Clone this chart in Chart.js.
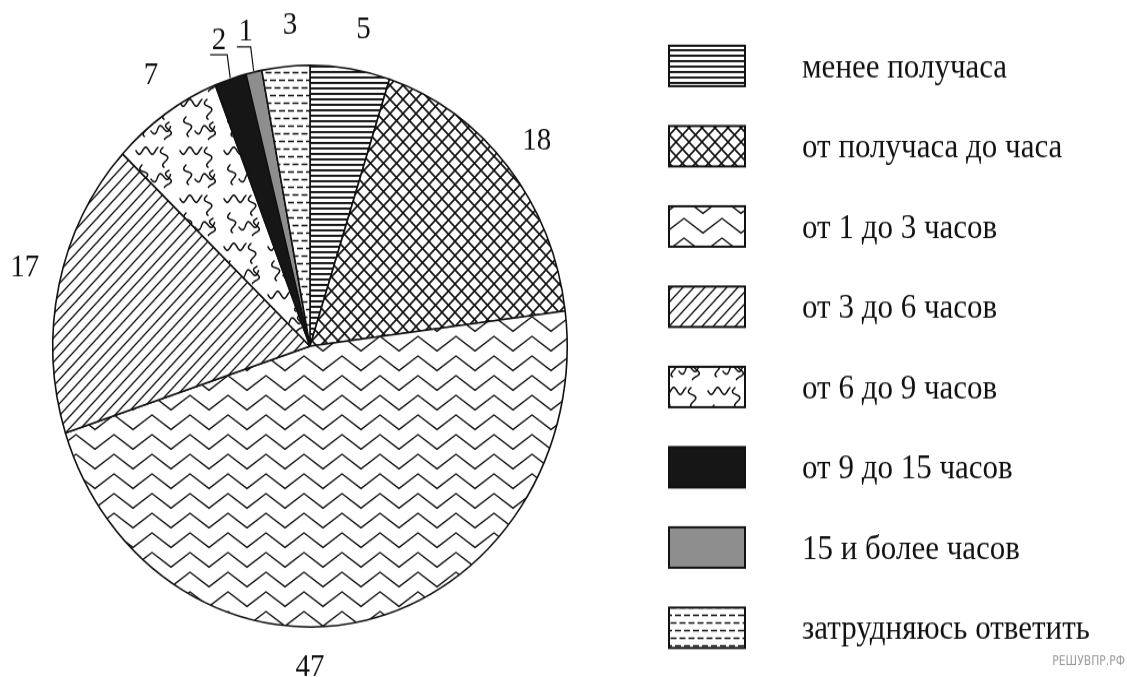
<!DOCTYPE html>
<html>
<head>
<meta charset="utf-8">
<script src="https://cdn.jsdelivr.net/npm/chart.js@4.4.0/dist/chart.umd.min.js"></script>
<style>
  html, body { margin: 0; padding: 0; background: #fff; }
</style>
</head>
<body>
<!-- drawn 620 high and stretched to 677, the reference picture is stretched the same way -->
<canvas id="pie" width="1127" height="620" style="width:1127px;height:677px"></canvas>
<script>
const categories = ['менее получаса', 'от получаса до часа', 'от 1 до 3 часов', 'от 3 до 6 часов',
                    'от 6 до 9 часов', 'от 9 до 15 часов', '15 и более часов', 'затрудняюсь ответить'];
const shares = [5, 18, 47, 17, 7, 2, 1, 3];
const labelShift = [1.5, 0, 12.6, 1.5, 1.5, 0, 0, 1.5];   // degrees, "47" sits right under the pie
const withLeader = [false, false, false, false, false, true, true, false];

var ctx = document.getElementById('pie').getContext('2d');

function tile(w, h, draw) {
    var c = document.createElement('canvas');
    c.width = w;
    c.height = h;
    var g = c.getContext('2d');
    g.fillStyle = '#fff';
    g.fillRect(0, 0, w, h);
    g.strokeStyle = '#111';
    g.fillStyle = '#111';
    g.lineCap = 'round';
    draw(g);
    return ctx.createPattern(c, 'repeat');
}

function line(g, pts) {
    g.moveTo(pts[0], pts[1]);
    for (var i = 2; i < pts.length; i += 2) g.lineTo(pts[i], pts[i + 1]);
}

// little sine wave, used for the "6 to 9 hours" fill
function wave(g, x0, y0, deg, len) {
    var a = deg * Math.PI / 180;
    var ux = Math.cos(a), uy = Math.sin(a);
    g.moveTo(x0, y0);
    for (var s = 0; s <= len; s += 0.5) {
        var off = 3.2 * Math.sin(s / 13 * 2 * Math.PI);
        g.lineTo(x0 + ux * s - uy * off, y0 + uy * s + ux * off);
    }
}

var fills = [
    // horizontal lines
    tile(8, 5, function (g) { g.fillRect(0, 0, 8, 1.9); }),
    // cross hatch
    tile(13, 13, function (g) {
        g.lineCap = 'butt';
        g.lineWidth = 1.6;
        g.beginPath();
        line(g, [0, 0, 13, 13]);
        line(g, [13, 0, 0, 13]);
        g.stroke();
    }),
    // zigzag
    tile(38, 18, function (g) {
        g.lineWidth = 1.4;
        g.beginPath();
        line(g, [-2, 0.6, 0, 2, 19, 15.3, 38, 2, 40, 0.6]);
        g.stroke();
    }),
    // diagonal lines
    tile(11, 11, function (g) {
        g.lineCap = 'butt';
        g.lineWidth = 1.3;
        g.beginPath();
        line(g, [0, 11, 11, 0]);
        line(g, [-1, 1, 1, -1]);
        line(g, [10, 12, 12, 10]);
        g.stroke();
    }),
    // squiggles
    tile(44, 44, function (g) {
        g.lineWidth = 1.5;
        g.beginPath();
        wave(g, 4, 6, 0, 22);
        wave(g, 31, 3, 80, 18);
        wave(g, 10, 19, 75, 18);
        wave(g, 19, 32, -10, 20);
        wave(g, 37, 24, 95, 16);
        g.stroke();
    }),
    '#161616',
    '#8e8e8e',
    // rows of short dashes
    tile(18, 14, function (g) {
        g.lineCap = 'butt';
        g.lineWidth = 1.6;
        g.beginPath();
        line(g, [0, 3.5, 6, 3.5]);
        line(g, [9, 3.5, 15, 3.5]);
        line(g, [4.5, 10.5, 10.5, 10.5]);
        line(g, [13.5, 10.5, 18, 10.5]);
        line(g, [0, 10.5, 1.5, 10.5]);
        g.stroke();
    })
];

const SERIF = '"Liberation Serif", "Times New Roman", serif';

// numbers round the pie
const valueLabels = {
    id: 'valueLabels',
    afterDatasetsDraw(chart) {
        var c = chart.ctx;
        var arcs = chart.getDatasetMeta(0).data;
        c.save();
        c.fillStyle = '#111';
        c.strokeStyle = '#111';
        c.lineWidth = 1.2;
        c.font = '29px ' + SERIF;
        c.textAlign = 'center';
        c.textBaseline = 'middle';
        arcs.forEach(function (arc, i) {
            var p = arc.getProps(['x', 'y', 'startAngle', 'endAngle', 'outerRadius'], true);
            var mid = (p.startAngle + p.endAngle) / 2;
            var a = mid + labelShift[i] * Math.PI / 180;
            var r = p.outerRadius + 37;
            var lx = p.x + Math.cos(a) * r;
            var ly = p.y + Math.sin(a) * r;
            c.fillText(String(shares[i]), lx, ly);
            if (withLeader[i]) {
                var ex = p.x + Math.cos(mid) * (p.outerRadius + 1);
                var ey = p.y + Math.sin(mid) * (p.outerRadius + 1);
                c.beginPath();
                c.moveTo(lx - 9, ly + 13);
                c.lineTo(ex - 3, ly + 13);
                c.lineTo(ex, ey);
                c.stroke();
            }
        });
        c.restore();
    }
};

// legend on the right side
const box = { x: 669, w: 76, h: 37, textX: 802, top: 60.4, step: 73.5 };
const sideLegend = {
    id: 'sideLegend',
    afterDraw(chart) {
        var c = chart.ctx;
        var bg = chart.data.datasets[0].backgroundColor;
        c.save();
        c.font = '31px ' + SERIF;
        c.textBaseline = 'middle';
        c.textAlign = 'left';
        chart.data.labels.forEach(function (label, i) {
            var cy = box.top + i * box.step;
            c.fillStyle = bg[i];
            c.fillRect(box.x, cy - box.h / 2, box.w, box.h);
            c.lineWidth = 2;
            c.strokeStyle = '#111';
            c.strokeRect(box.x, cy - box.h / 2, box.w, box.h);
            c.fillStyle = '#111';
            c.fillText(label, box.textX, cy + 2);
        });
        c.font = '12px "DejaVu Sans Condensed", "DejaVu Sans", sans-serif';
        c.fillStyle = '#9a9a9a';
        c.textAlign = 'right';
        c.fillText('РЕШУВПР.РФ', 1125, 606);
        c.restore();
    }
};

var chart = new Chart(ctx, {
    type: 'pie',
    data: {
        labels: categories,
        datasets: [{
            data: shares,
            backgroundColor: fills,
            borderColor: '#111',
            borderWidth: 1.6,
            clip: false
        }]
    },
    options: {
        responsive: false,
        animation: false,
        events: [],
        layout: { padding: { left: 52, right: 559, top: 59, bottom: 45 } },
        plugins: {
            legend: { display: false },
            tooltip: { enabled: false }
        }
    },
    plugins: [valueLabels, sideLegend]
});
</script>
</body>
</html>
